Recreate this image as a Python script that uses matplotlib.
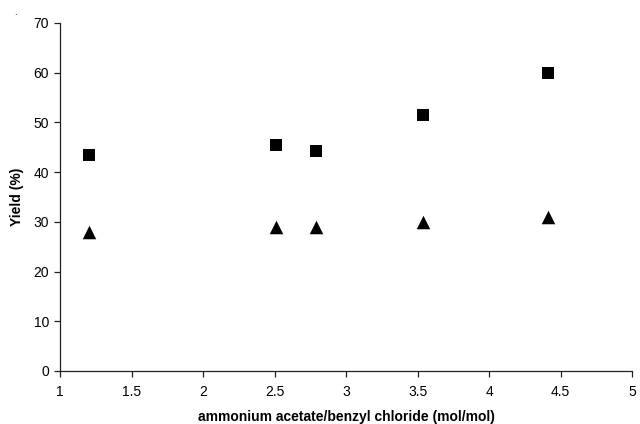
import matplotlib
matplotlib.use("Agg")
import matplotlib.pyplot as plt

plt.rcParams['font.family'] = ['Liberation Sans', 'DejaVu Sans']

ratio = [1.2, 2.51, 2.79, 3.535, 4.41]
yield_sq = [43.5, 45.5, 44.2, 51.4, 59.9]
yield_tri = [28.0, 29.0, 29.0, 29.9, 31.0]
xticks = [1, 1.5, 2, 2.5, 3, 3.5, 4, 4.5, 5]
xticklabels = ['1', '1.5', '2', '2.5', '3', '3.5', '4', '4.5', '5']
yticks = [0, 10, 20, 30, 40, 50, 60, 70]

fig = plt.figure(figsize=(6.4, 4.24), dpi=100)
ax = fig.add_axes([0.094, 0.125, 0.8935, 0.8208])

ax.scatter(ratio, yield_sq, marker='s', s=75, color='black', linewidths=0, zorder=3)
ax.scatter(ratio, yield_tri, marker='^', s=95, color='black', linewidths=0, zorder=3)

ax.set_xlim(1, 5)
ax.set_ylim(0, 70)
ax.set_xticks(xticks)
ax.set_xticklabels(xticklabels)
ax.set_yticks(yticks)
for s in ['top', 'right']:
    ax.spines[s].set_visible(False)
for s in ['left', 'bottom']:
    ax.spines[s].set_color('#222222')
    ax.spines[s].set_linewidth(0.9)
ax.tick_params(axis='both', direction='out', length=4, width=0.9, color='#222222', labelsize=10)
ax.tick_params(axis='x', pad=6)
ax.tick_params(axis='y', pad=4)

ax.set_xlabel('ammonium acetate/benzyl chloride (mol/mol)', fontsize=10, fontweight='bold', labelpad=8)
ax.set_ylabel('Yield (%)', fontsize=10, fontweight='bold', labelpad=7)

fig.text(0.022, 0.965, '.', fontsize=7)

fig.savefig('out.png', dpi=100)
